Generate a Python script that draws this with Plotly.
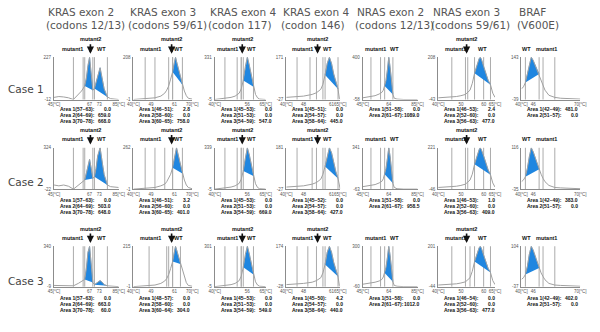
import numpy as np
import plotly.graph_objects as go

# ---------------------------------------------------------------- content
GENE_TITLES = ["KRAS exon 2", "KRAS exon 3", "KRAS exon 4", "KRAS exon 4",
               "NRAS exon 2", "NRAS exon 3", "BRAF"]
CODON_TITLES = ["(codons 12/13)", "(codons 59/61)", "(codon 117)", "(codon 146)",
                "(codons 12/13)", "(codons 59/61)", "(V600E)"]
CASES = ["Case 1", "Case 2", "Case 3"]

# temperature axis of each assay [°C]
TEMP_RANGE = [[45, 85], [40, 70], [40, 65], [40, 65], [45, 85], [40, 65], [40, 70]]
TEMP_TICKS = [[45, 67, 73, 85], [40, 49, 61, 70], [40, 56, 65], [40, 48, 61, 65],
              [45, 64, 85], [40, 50, 60, 65], [40, 46, 70]]

# probe labels above each assay [°C]
MUTANT1_AT = [56.5, 48.5, 46.5, 47.5, 54.0, 47.5, 53.0]
MUTANT2_AT = [67.5, 59.5, 53.5, 54.5, None, 52.5, None]
WT_AT = [74.5, 63.0, 58.0, 59.0, 68.5, 59.5, 42.5]

# melting curve sampling temperatures of each assay [°C]
CURVE_T = [
    [45, 48, 51, 54, 57, 60, 62, 64, 65, 66, 67, 68, 69, 70, 71, 72, 73.5, 75, 76, 78, 80, 85],
    [40, 44, 48, 51, 54, 56, 57, 58, 59, 60, 61, 61.5, 62, 63, 64, 65, 66, 67, 68, 70],
    [40, 44, 48, 50, 52, 53, 54, 55, 56, 57, 58, 59, 60, 61, 62, 65],
    [40, 44, 48, 52, 54, 56, 57, 58, 59, 60, 61, 62, 63, 64, 64.6, 65],
    [45, 50, 54, 57, 59, 60, 61, 62, 63, 64, 65, 66, 67, 68, 70, 75, 85],
    [40, 44, 48, 50, 52, 54, 55, 56, 57, 58, 58.5, 59, 60, 61, 62, 63, 64, 65],
    [40, 41, 42, 43, 44, 44.5, 45, 46, 47, 48, 49, 50, 51, 52, 54, 57, 60, 65, 70],
]

# -dF/dT, relative to the panel's scale (0 = lower limit, 1 = upper limit)
CURVE_CASE1 = [
    [0.05, 0.07, 0.06, 0.04, 0.0, 0.12, 0.2, 0.32, 0.5, 0.8, 1.0, 0.6, 0.22, 0.26, 0.4, 0.6, 0.75, 0.45, 0.25, 0.06, 0.02, 0.0],
    [0.0, 0.01, 0.02, 0.04, 0.08, 0.15, 0.22, 0.32, 0.48, 0.65, 0.9, 1.0, 0.9, 0.72, 0.52, 0.35, 0.2, 0.09, 0.03, 0.01],
    [0.0, 0.02, 0.05, 0.08, 0.15, 0.25, 0.45, 0.78, 1.0, 0.8, 0.55, 0.3, 0.12, 0.04, 0.01, 0.0],
    [0.05, 0.06, 0.08, 0.12, 0.16, 0.24, 0.36, 0.58, 0.85, 1.0, 0.85, 0.6, 0.4, 0.25, 0.03, 0.0],
    [0.04, 0.06, 0.09, 0.13, 0.17, 0.22, 0.32, 0.45, 0.7, 1.0, 0.75, 0.45, 0.12, 0.03, 0.01, 0.0, 0.0],
    [0.04, 0.05, 0.07, 0.09, 0.12, 0.22, 0.38, 0.62, 0.82, 0.96, 1.0, 0.95, 0.78, 0.6, 0.45, 0.35, 0.15, 0.05],
    [0.25, 0.3, 0.4, 0.6, 0.85, 0.95, 1.0, 0.92, 0.8, 0.7, 0.6, 0.45, 0.32, 0.22, 0.1, 0.05, 0.03, 0.02, 0.01],
]
CURVE_CASE2 = [
    [0.1, 0.08, 0.1, 0.07, 0.0, 0.1, 0.16, 0.22, 0.38, 0.58, 0.72, 0.5, 0.26, 0.3, 0.5, 0.8, 1.0, 0.6, 0.35, 0.1, 0.06, 0.04],
    [0.0, 0.01, 0.02, 0.04, 0.08, 0.12, 0.18, 0.26, 0.36, 0.52, 0.8, 0.95, 1.0, 0.8, 0.58, 0.38, 0.22, 0.1, 0.04, 0.01],
    [0.0, 0.02, 0.05, 0.08, 0.14, 0.24, 0.44, 0.75, 1.0, 0.82, 0.58, 0.32, 0.13, 0.04, 0.01, 0.0],
    [0.05, 0.06, 0.08, 0.12, 0.16, 0.24, 0.36, 0.55, 0.82, 1.0, 0.88, 0.62, 0.42, 0.26, 0.03, 0.0],
    [0.06, 0.08, 0.11, 0.15, 0.19, 0.25, 0.36, 0.5, 0.74, 1.0, 0.78, 0.48, 0.14, 0.04, 0.01, 0.0, 0.0],
    [0.04, 0.05, 0.07, 0.09, 0.12, 0.22, 0.36, 0.6, 0.8, 0.95, 1.0, 0.95, 0.8, 0.62, 0.46, 0.35, 0.15, 0.05],
    [0.18, 0.22, 0.3, 0.5, 0.78, 0.92, 1.0, 0.9, 0.75, 0.6, 0.48, 0.36, 0.26, 0.18, 0.09, 0.04, 0.03, 0.02, 0.01],
]
CURVE_CASE3 = [
    [0.03, 0.03, 0.03, 0.03, 0.02, 0.08, 0.12, 0.18, 0.45, 0.85, 1.0, 0.55, 0.1, 0.05, 0.08, 0.12, 0.15, 0.1, 0.05, 0.02, 0.01, 0.0],
    [0.0, 0.01, 0.02, 0.04, 0.08, 0.14, 0.2, 0.3, 0.45, 0.62, 0.88, 1.0, 0.92, 0.75, 0.56, 0.4, 0.24, 0.1, 0.03, 0.01],
    [0.0, 0.02, 0.05, 0.08, 0.15, 0.26, 0.48, 0.8, 1.0, 0.8, 0.55, 0.3, 0.12, 0.04, 0.01, 0.0],
    [0.05, 0.06, 0.08, 0.11, 0.15, 0.22, 0.34, 0.55, 0.85, 1.0, 0.85, 0.6, 0.4, 0.25, 0.03, 0.0],
    [0.06, 0.08, 0.11, 0.14, 0.18, 0.24, 0.34, 0.48, 0.72, 1.0, 0.76, 0.46, 0.12, 0.03, 0.01, 0.0, 0.0],
    [0.04, 0.05, 0.07, 0.09, 0.12, 0.22, 0.38, 0.62, 0.82, 0.96, 1.0, 0.95, 0.78, 0.6, 0.45, 0.35, 0.15, 0.05],
    [0.18, 0.22, 0.3, 0.5, 0.8, 0.93, 1.0, 0.9, 0.75, 0.6, 0.46, 0.34, 0.25, 0.17, 0.08, 0.04, 0.03, 0.02, 0.01],
]
CURVES = [CURVE_CASE1, CURVE_CASE2, CURVE_CASE3]

# instrument scale of each panel (lower, upper)
SCALE_CASE1 = [(-12, 227), (-1, 208), (-5, 331), (-27, 171), (-58, 400), (-43, 208), (-39, 143)]
SCALE_CASE2 = [(-22, 324), (-1, 262), (-5, 339), (-27, 181), (-63, 341), (-46, 221), (-35, 116)]
SCALE_CASE3 = [(-9, 340), (-1, 215), (-5, 301), (-28, 174), (-60, 300), (-44, 201), (-37, 104)]
SCALES = [SCALE_CASE1, SCALE_CASE2, SCALE_CASE3]

# integration windows [°C] and peak areas
WINDOWS_CASE1 = [[(57, 63), (64, 69), (70, 78)], [(46, 51), (58, 60), (60, 65)],
                 [(45, 53), (51, 53), (54, 59)], [(45, 51), (54, 57), (58, 64)],
                 [(51, 58), (61, 67)], [(46, 53), (52, 60), (56, 63)], [(42, 49), (51, 57)]]
WINDOWS_CASE2 = [[(57, 63), (64, 69), (70, 78)], [(46, 51), (56, 60), (60, 65)],
                 [(45, 53), (51, 53), (54, 59)], [(45, 52), (54, 57), (58, 64)],
                 [(51, 58), (61, 67)], [(46, 53), (52, 60), (56, 63)], [(42, 49), (51, 57)]]
WINDOWS_CASE3 = [[(57, 63), (64, 69), (70, 78)], [(48, 57), (58, 60), (60, 64)],
                 [(45, 53), (51, 53), (54, 59)], [(45, 50), (54, 57), (58, 64)],
                 [(51, 58), (61, 67)], [(46, 54), (52, 60), (56, 63)], [(42, 49), (51, 57)]]
WINDOWS = [WINDOWS_CASE1, WINDOWS_CASE2, WINDOWS_CASE3]

AREAS_CASE1 = [[0.0, 659.0, 668.0], [2.8, 0.0, 758.0], [0.0, 0.0, 547.0], [0.0, 0.0, 445.0],
               [0.0, 1089.0], [2.4, 0.0, 477.0], [481.0, 0.0]]
AREAS_CASE2 = [[0.0, 503.0, 648.0], [3.2, 0.0, 401.0], [0.0, 0.0, 669.0], [0.0, 0.0, 427.0],
               [0.0, 958.5], [1.0, 0.0, 409.0], [383.0, 0.0]]
AREAS_CASE3 = [[0.0, 663.0, 60.0], [0.0, 0.0, 304.0], [0.0, 0.0, 549.0], [4.2, 0.0, 440.0],
               [0.0, 1012.0], [0.0, 0.0, 477.0], [402.0, 0.0]]
AREAS = [AREAS_CASE1, AREAS_CASE2, AREAS_CASE3]

# ---------------------------------------------------------------- layout
W, H = 600, 332
COL_LEFT = [49, 130, 213, 286, 364, 441, 526]
COL_RIGHT = [115, 190, 265, 341, 420, 499, 586]
ROW_TOP = [56, 148, 248]
ROW_BOTTOM = [99, 190, 289]
ROW_TEXT = [[109, 115, 121], [201, 207, 213], [301, 307, 313]]
CASE_Y = [88, 183, 283]
TITLE_X = [41, 124, 206, 281, 356, 434, 521]

BLUE = "#1f86e0"
CURVE_GRAY = "#a0a0a0"
LINE_GRAY = "#ababab"
LABEL = dict(family="Liberation Sans", size=5.5, color="#111111")
REPORT = dict(family="Liberation Sans", size=5, color="#111111")
TICK = dict(family="Liberation Sans", size=4.5, color="#555555")
TITLE = dict(family="DejaVu Sans", size=10.5, color="#555555")


def px(x):
    return x / W


def py(y):
    return 1 - y / H


fig = go.Figure()
layout = dict(width=W, height=H, margin=dict(l=0, r=0, t=0, b=0),
              paper_bgcolor="white", plot_bgcolor="white", showlegend=False)
shapes, annotations = [], []

for r in range(3):
    for c in range(7):
        n = r * 7 + c + 1
        sfx = "" if n == 1 else str(n)
        xa, ya = f"x{sfx}", f"y{sfx}"
        lo, hi = SCALES[r][c]
        t = np.array(CURVE_T[c], dtype=float)
        f = np.array(CURVES[r][c], dtype=float)
        val = lo + f * (hi - lo)

        # shaded peak areas: curve closed by the chord across the window
        for (a, b), area in zip(WINDOWS[r][c], AREAS[r][c]):
            if area < 10:
                continue
            inner = t[(t > a) & (t < b)]
            xs = np.concatenate([[a], inner, [b]])
            ys = np.interp(xs, t, val)
            fig.add_trace(go.Scatter(x=xs, y=ys, xaxis=xa, yaxis=ya, mode="lines",
                                     fill="toself", fillcolor=BLUE,
                                     line=dict(color=BLUE, width=0.5),
                                     hoverinfo="skip"))

        fig.add_trace(go.Scatter(x=t, y=val, xaxis=xa, yaxis=ya, mode="lines",
                                 line=dict(color=CURVE_GRAY, width=1),
                                 hoverinfo="skip"))

        # window borders
        for a, b in WINDOWS[r][c]:
            for edge in (a, b):
                shapes.append(dict(type="line", xref=xa, yref=f"{ya} domain",
                                   x0=edge, x1=edge, y0=0, y1=1,
                                   line=dict(color=LINE_GRAY, width=1), layer="below"))

        ticks = TEMP_TICKS[c]
        ticktext = [f"{v}[°C]" if v in (TEMP_RANGE[c][0], TEMP_RANGE[c][1]) else str(v)
                    for v in ticks]
        layout[f"xaxis{sfx}"] = dict(domain=[px(COL_LEFT[c]), px(COL_RIGHT[c])], anchor=ya,
                                     range=TEMP_RANGE[c], tickvals=ticks, ticktext=ticktext,
                                     tickangle=0, showline=True, linecolor="#8c8c8c",
                                     linewidth=1, ticks="", showgrid=False, zeroline=False,
                                     tickfont=TICK, ticklabelstandoff=0)
        layout[f"yaxis{sfx}"] = dict(domain=[py(ROW_BOTTOM[r]), py(ROW_TOP[r])], anchor=xa,
                                     range=[lo, hi], tickvals=[lo, hi],
                                     ticktext=[str(lo), str(hi)],
                                     showline=True, linecolor="#8c8c8c", linewidth=1,
                                     ticks="", showgrid=False, zeroline=False,
                                     tickfont=TICK, ticklabelstandoff=1)

        # probe labels
        annotations.append(dict(x=MUTANT1_AT[c], y=1.2, xref=xa, yref=f"{ya} domain",
                                text="<b>mutant1</b>", showarrow=False, font=LABEL,
                                yanchor="middle"))
        annotations.append(dict(x=WT_AT[c], y=1.2, xref=xa, yref=f"{ya} domain",
                                text="<b>WT</b>", showarrow=False, font=LABEL,
                                yanchor="middle"))
        if MUTANT2_AT[c] is not None:
            annotations.append(dict(x=MUTANT2_AT[c], y=1.42, xref=xa, yref=f"{ya} domain",
                                    text="<b>mutant2</b>", showarrow=False, font=LABEL,
                                    yanchor="middle"))
            annotations.append(dict(x=MUTANT2_AT[c], y=1.08, xref=xa, yref=f"{ya} domain",
                                    ax=0, ay=-11, text="", showarrow=True,
                                    arrowhead=2, arrowsize=0.9, arrowwidth=1.6,
                                    arrowcolor="#111111"))

        # peak area report
        for i, ((a, b), area) in enumerate(zip(WINDOWS[r][c], AREAS[r][c])):
            yy = py(ROW_TEXT[r][i])
            annotations.append(dict(x=px(COL_LEFT[c] + 4), y=yy, xref="paper", yref="paper",
                                    text=f"<b>Area {i + 1}({a}~{b}):</b>",
                                    showarrow=False, xanchor="left", yanchor="middle",
                                    font=REPORT))
            annotations.append(dict(x=px(COL_LEFT[c] + 60), y=yy, xref="paper", yref="paper",
                                    text=f"<b>{area:.1f}</b>",
                                    showarrow=False, xanchor="right", yanchor="middle",
                                    font=REPORT))

for r, name in enumerate(CASES):
    annotations.append(dict(x=0, y=py(CASE_Y[r]), xref="paper", yref="paper",
                            text=name, showarrow=False, xanchor="left", yanchor="middle",
                            font=dict(family="DejaVu Sans", size=10.5, color="#444444")))

for c in range(7):
    annotations.append(dict(x=px(TITLE_X[c]), y=py(10), xref="paper", yref="paper",
                            text=GENE_TITLES[c], showarrow=False, xanchor="left",
                            yanchor="middle", font=TITLE))
    annotations.append(dict(x=px(TITLE_X[c] - 2), y=py(23), xref="paper", yref="paper",
                            text=CODON_TITLES[c], showarrow=False, xanchor="left",
                            yanchor="middle", font=TITLE))

layout["shapes"] = shapes
layout["annotations"] = annotations
fig.update_layout(**layout)
fig.write_html("out.html")
